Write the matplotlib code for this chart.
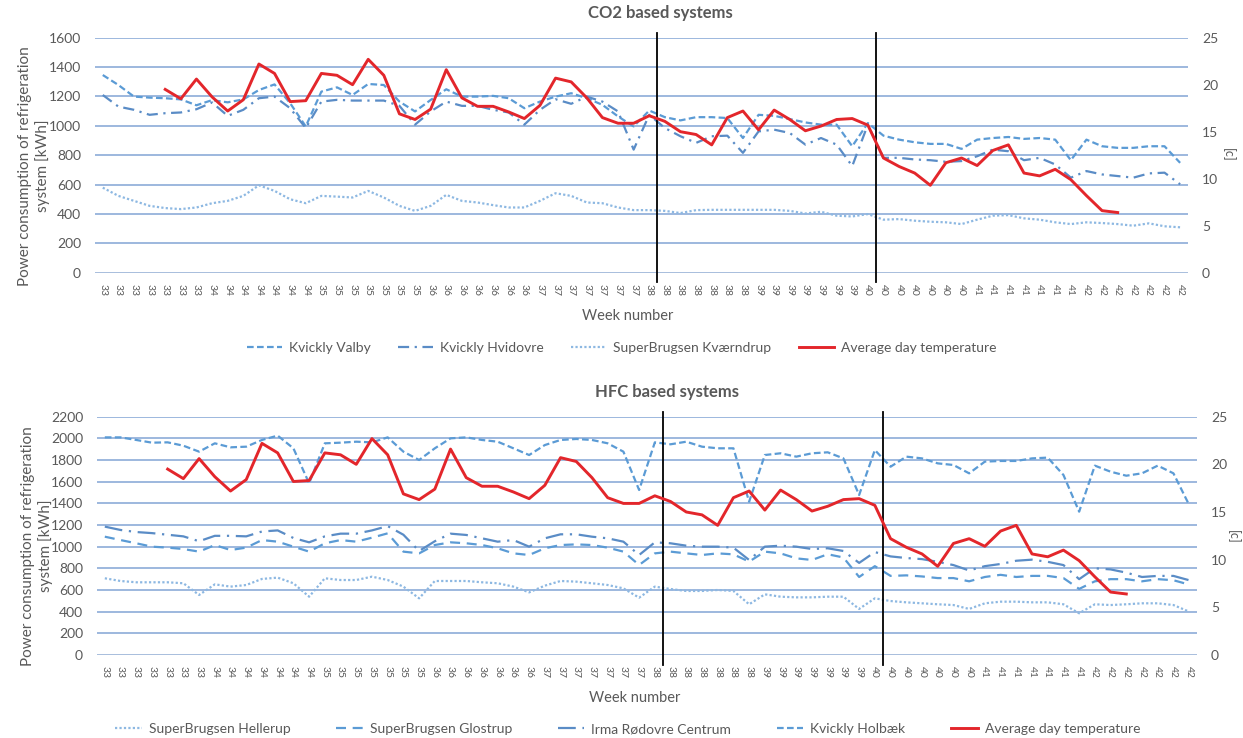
import matplotlib
matplotlib.use("Agg")
import matplotlib.pyplot as plt
import numpy as np

plt.rcParams["font.family"] = ["Lato", "DejaVu Sans"]

# 7 readings per week, weeks 33..42
week_labels = (["33"] * 7 + ["34"] * 7 + ["35"] * 7 + ["36"] * 7 + ["37"] * 7
               + ["38"] * 7 + ["39"] * 7 + ["40"] * 7 + ["41"] * 7 + ["42"] * 7)

# average day temperature [c], readings 4..65
temp_first = 4
avg_temp = [19.5, 18.5, 20.6, 18.7, 17.2, 18.4, 22.2, 21.2, 18.2, 18.3, 21.2, 21.0,
            20.0, 22.7, 21.0, 16.9, 16.3, 17.4, 21.6, 18.6, 17.7, 17.7, 17.1, 16.4,
            17.8, 20.7, 20.3, 18.6, 16.5, 15.9, 15.9, 16.7, 16.1, 15.0, 14.7, 13.6,
            16.5, 17.2, 15.2, 17.3, 16.3, 15.1, 15.6, 16.3, 16.4, 15.7, 12.2, 11.3,
            10.6, 9.3, 11.7, 12.2, 11.4, 13.0, 13.6, 10.6, 10.3, 11.0, 9.9, 8.2, 6.6, 6.4]

# CO2 based systems [kWh]
kvickly_valby = [1346, 1278, 1199, 1192, 1188, 1180, 1140, 1175, 1160, 1180, 1244, 1282,
                 1154, 996, 1233, 1262, 1210, 1285, 1278, 1165, 1098, 1176, 1249, 1199,
                 1199, 1204, 1188, 1120, 1165, 1199, 1222, 1188, 1143, 1064, 996, 1104,
                 1059, 1037, 1059, 1059, 1053, 917, 1075, 1068, 1046, 1023, 1008,
                 1008, 861, 1019, 933, 906, 888, 877, 877, 843, 906, 917, 924, 911, 917,
                 906, 766, 906, 861, 850, 850, 861, 861, 748]
kvickly_hvidovre = [1210, 1131, 1109, 1075, 1086, 1091, 1113, 1159, 1068, 1109, 1188, 1199,
                    1120, 985, 1165, 1177, 1172, 1172, 1172, 1136, 1008, 1098, 1165, 1136,
                    1136, 1109, 1091, 1008, 1109, 1181, 1150, 1199, 1165, 1098, 838, 1075,
                    985, 929, 884, 929, 933, 816, 962, 974, 951, 872, 917,
                    872, 726, 1008, 782, 782, 771, 766, 755, 760, 793, 838, 827, 766, 782,
                    737, 647, 692, 669, 658, 647, 676, 681, 602]
sb_kvaerndrup = [579, 523, 489, 455, 440, 433, 444, 473, 489, 523, 595, 557, 500, 473, 523,
                 518, 512, 557, 512, 455, 421, 455, 530, 489,
                 478, 460, 444, 444, 489, 541, 523, 478, 473, 444, 426, 426, 421, 406, 426,
                 428, 428, 428, 428, 428, 421, 403, 415,
                 388, 383, 399, 361, 365, 354, 347, 343, 331, 361, 388, 392, 370, 361, 343,
                 331, 343, 338, 331, 320, 336, 316, 309]

# HFC based systems [kWh]
sb_hellerup = [708, 683, 671, 671, 671, 662, 554, 652, 631, 646, 702, 714, 662, 538, 708,
               692, 692, 723, 692, 631, 523, 683, 683,
               683, 671, 662, 631, 578, 640, 683, 677, 662, 646, 615, 529, 631, 609, 591,
               591, 600, 591, 468, 560, 538, 532, 532,
               538, 538, 425, 523, 498, 486, 477, 468, 461, 425, 477, 492, 492, 486, 486,
               468, 385, 468, 461, 468, 477, 477, 461, 400]
sb_glostrup = [1092, 1061, 1031, 1000, 991, 978, 954, 1015, 969, 991, 1061, 1046, 1000, 954,
               1031, 1061, 1046, 1083, 1123, 954, 938, 1015, 1040,
               1031, 1015, 985, 938, 923, 985, 1015, 1021, 1015, 991, 954, 831, 938, 954,
               938, 923, 938, 929, 862, 954, 938, 892, 877,
               930, 900, 720, 820, 730, 735, 725, 710, 710, 680, 720, 740, 720, 730, 730,
               710, 610, 680, 700, 700, 680, 700, 690, 650]
irma_rodovre = [1185, 1154, 1135, 1125, 1110, 1095, 1050, 1100, 1100, 1095, 1140, 1150, 1080,
                1040, 1095, 1120, 1120, 1150, 1190, 1110, 960, 1050, 1120,
                1108, 1077, 1046, 1061, 1000, 1077, 1114, 1114, 1092, 1077, 1046, 923, 1040,
                1031, 1009, 1000, 1000, 991, 877, 1000, 1009, 1000, 978,
                985, 960, 850, 950, 910, 895, 885, 860, 830, 780, 820, 840, 870, 880, 860,
                830, 700, 800, 790, 760, 720, 730, 730, 690]
kvickly_holbaek = [2009, 2009, 1985, 1960, 1963, 1932, 1877, 1954, 1917, 1923, 1985, 2025,
                   1908, 1585, 1954, 1960, 1969, 1963, 2009, 1877, 1800, 1908, 2000,
                   2009, 1985, 1969, 1908, 1846, 1938, 1985, 1994, 1985, 1954, 1877, 1523,
                   1963, 1945, 1969, 1923, 1908, 1908, 1415, 1846, 1862, 1831, 1862,
                   1871, 1815, 1477, 1892, 1738, 1831, 1815, 1769, 1754, 1677, 1785, 1791,
                   1791, 1815, 1822, 1662, 1323, 1748, 1692, 1655, 1677, 1748, 1677, 1385]

# positions of the two black marker lines (between readings)
marker_lines = [35.5, 49.5]

GRID = "#9DB8DE"
TXT = "#595959"
RED = "#E3262B"
BLUE = "#5B9BD5"
BLUE2 = "#5A8CC6"
LIGHT = "#8DB8E2"

x = np.arange(len(week_labels))
xt = np.arange(temp_first, temp_first + len(avg_temp))


def setup(ax, ymax, ystep, label_x, label_y):
    ax.set_xlim(-0.5, len(week_labels) - 0.5)
    ax.set_ylim(0, ymax)
    ax.set_yticks(np.arange(0, ymax + 1, ystep))
    ax.yaxis.grid(True, color=GRID, lw=1.4)
    ax.set_axisbelow(True)
    for s in ax.spines.values():
        s.set_visible(False)
    ax.axhline(0, color="#D9D9D9", lw=1.0)
    ax.set_xticks(x)
    ax.set_xticklabels(week_labels, rotation=270, fontsize=7.5, color=TXT)
    ax.tick_params(axis="both", length=0)
    ax.tick_params(axis="y", labelsize=10, labelcolor=TXT, pad=10)
    ax.tick_params(axis="x", pad=8)
    ax.set_ylabel("Power consumption of refrigeration\nsystem [kWh]", fontsize=11,
                  color=TXT, linespacing=1.25)
    ax.yaxis.set_label_coords(label_x, label_y)
    for v in marker_lines:
        ax.axvline(v, ymin=-0.04, ymax=1.02, color="black", lw=1.3, clip_on=False, zorder=5)
    t = ax.twinx()
    t.set_ylim(0, 25)
    t.set_yticks(np.arange(0, 26, 5))
    for s in t.spines.values():
        s.set_visible(False)
    t.tick_params(length=0, labelsize=10, labelcolor=TXT, pad=10)
    return t


fig = plt.figure(figsize=(12.43, 7.38), dpi=100)

# ---- CO2 based systems
ax1 = fig.add_axes([0.0764, 0.6305, 0.8793, 0.3184])
t1 = setup(ax1, 1600, 200, -0.041, 0.454)
ax1.plot(x, kvickly_valby, color=BLUE, lw=1.6, dashes=(3, 1.5), label="Kvickly Valby")
ax1.plot(x, kvickly_hvidovre, color=BLUE2, lw=1.6, dashes=(5, 2.5, 1, 2.5),
         label="Kvickly Hvidovre")
ax1.plot(x, sb_kvaerndrup, color=LIGHT, lw=1.6, dashes=(1, 1),
         label="SuperBrugsen Kværndrup")
t1.plot(xt, avg_temp, color=RED, lw=2.1, label="Average day temperature")
h1 = ax1.get_legend_handles_labels()
h2 = t1.get_legend_handles_labels()
fig.legend(h1[0] + h2[0], h1[1] + h2[1], loc="center", bbox_to_anchor=(0.50, 1 - 348 / 738),
           ncol=4, frameon=False, fontsize=10, handlelength=2.5, columnspacing=2.0,
           handletextpad=0.5, labelcolor=TXT)
fig.text(660 / 1243, 1 - 13 / 738, "CO2 based systems", ha="center", va="center",
         fontsize=12, fontweight="bold", color=TXT)
fig.text(628 / 1243, 1 - 316 / 738, "Week number", ha="center", va="center",
         fontsize=10.5, color=TXT)
fig.text(1228 / 1243, 1 - 155 / 738, "[c]", ha="center", va="center", rotation=270,
         fontsize=9, color=TXT)

# ---- HFC based systems
ax2 = fig.add_axes([0.078, 0.1125, 0.885, 0.3229])
t2 = setup(ax2, 2200, 200, -0.040, 0.457)
ax2.plot(x, sb_hellerup, color=LIGHT, lw=1.6, dashes=(1, 1), label="SuperBrugsen Hellerup")
ax2.plot(x, sb_glostrup, color=BLUE, lw=1.6, dashes=(4.5, 3), label="SuperBrugsen Glostrup")
ax2.plot(x, irma_rodovre, color=BLUE2, lw=1.6, dashes=(8, 3, 1, 3),
         label="Irma Rødovre Centrum")
ax2.plot(x, kvickly_holbaek, color=BLUE, lw=1.6, dashes=(3, 1.5), label="Kvickly Holbæk")
t2.plot(xt, avg_temp, color=RED, lw=2.1, label="Average day temperature")
h1 = ax2.get_legend_handles_labels()
h2 = t2.get_legend_handles_labels()
fig.legend(h1[0] + h2[0], h1[1] + h2[1], loc="center", bbox_to_anchor=(0.505, 1 - 729 / 738),
           ncol=5, frameon=False, fontsize=10, handlelength=1.9, columnspacing=3.3,
           handletextpad=0.5, labelcolor=TXT)
fig.text(667 / 1243, 1 - 392 / 738, "HFC based systems", ha="center", va="center",
         fontsize=12, fontweight="bold", color=TXT)
fig.text(635 / 1243, 1 - 698 / 738, "Week number", ha="center", va="center",
         fontsize=10.5, color=TXT)
fig.text(1233 / 1243, 1 - 537 / 738, "[c]", ha="center", va="center", rotation=270,
         fontsize=9, color=TXT)

fig.savefig("out.png", dpi=100, facecolor="white")
